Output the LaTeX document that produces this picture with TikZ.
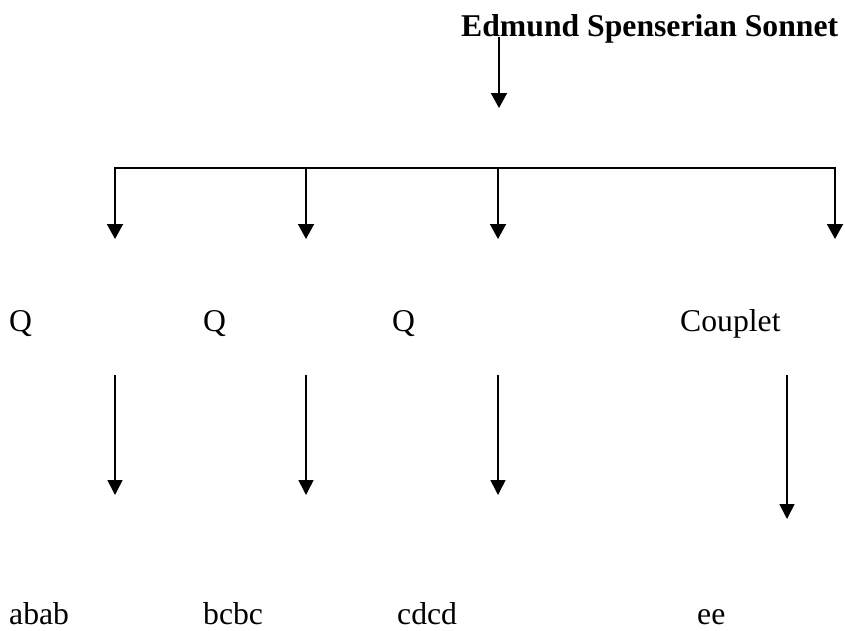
\documentclass[tikz,border=0pt]{standalone}
\usepackage{fontspec}
\setmainfont{Liberation Serif}
\usetikzlibrary{arrows.meta}
\begin{document}
\begin{tikzpicture}[x=1pt,y=-1pt,
  lbl/.style={anchor=base west,inner sep=0pt,font=\fontsize{31.7}{38}\selectfont},
  ttl/.style={lbl,font=\fontsize{31.7}{38}\selectfont\bfseries},
  toparrow/.style={line width=1.9pt,-{Triangle[width=16pt,length=15pt]}},
  lowarrow/.style={line width=1.5pt,-{Triangle[width=15pt,length=15pt]}},
  bar/.style={line width=1.9pt}]
\useasboundingbox (0,0) rectangle (845,630);
% title
\node[ttl] (title) at (461,36) {Edmund Spenserian Sonnet};
\coordinate (t0) at (499,37);
\coordinate (t1) at (499,108);
\draw[toparrow] (t0) -- (t1);
% bracket
\coordinate (h1) at (115,168);
\coordinate (h2) at (306,168);
\coordinate (h3) at (498,168);
\coordinate (h4) at (835,168);
\coordinate (e1) at (115,239);
\coordinate (e2) at (306,239);
\coordinate (e3) at (498,239);
\coordinate (e4) at (835,239);
\draw[bar] ([xshift=-0.95pt]h1) -- ([xshift=0.95pt]h4);
\draw[toparrow] ([yshift=-0.95pt]h1) -- (e1);
\draw[toparrow] (h2) -- (e2);
\draw[toparrow] (h3) -- (e3);
\draw[toparrow] ([yshift=-0.95pt]h4) -- (e4);
% middle labels
\node[lbl] (q1) at (9,331) {Q};
\node[lbl] (q2) at (203,331) {Q};
\node[lbl] (q3) at (392,331) {Q};
\node[lbl] (cp) at (680,331) {Couplet};
% lower arrows
\coordinate (s1) at (115,375);
\coordinate (s2) at (306,375);
\coordinate (s3) at (498,375);
\coordinate (s4) at (787,375);
\coordinate (f1) at (115,495);
\coordinate (f2) at (306,495);
\coordinate (f3) at (498,495);
\coordinate (f4) at (787,519);
\draw[lowarrow] (s1) -- (f1);
\draw[lowarrow] (s2) -- (f2);
\draw[lowarrow] (s3) -- (f3);
\draw[lowarrow] (s4) -- (f4);
% bottom labels
\node[lbl] (r1) at (9,624) {abab};
\node[lbl] (r2) at (203,624) {bcbc};
\node[lbl] (r3) at (397,624) {cdcd};
\node[lbl] (r4) at (697,624) {ee};
\end{tikzpicture}
\end{document}
